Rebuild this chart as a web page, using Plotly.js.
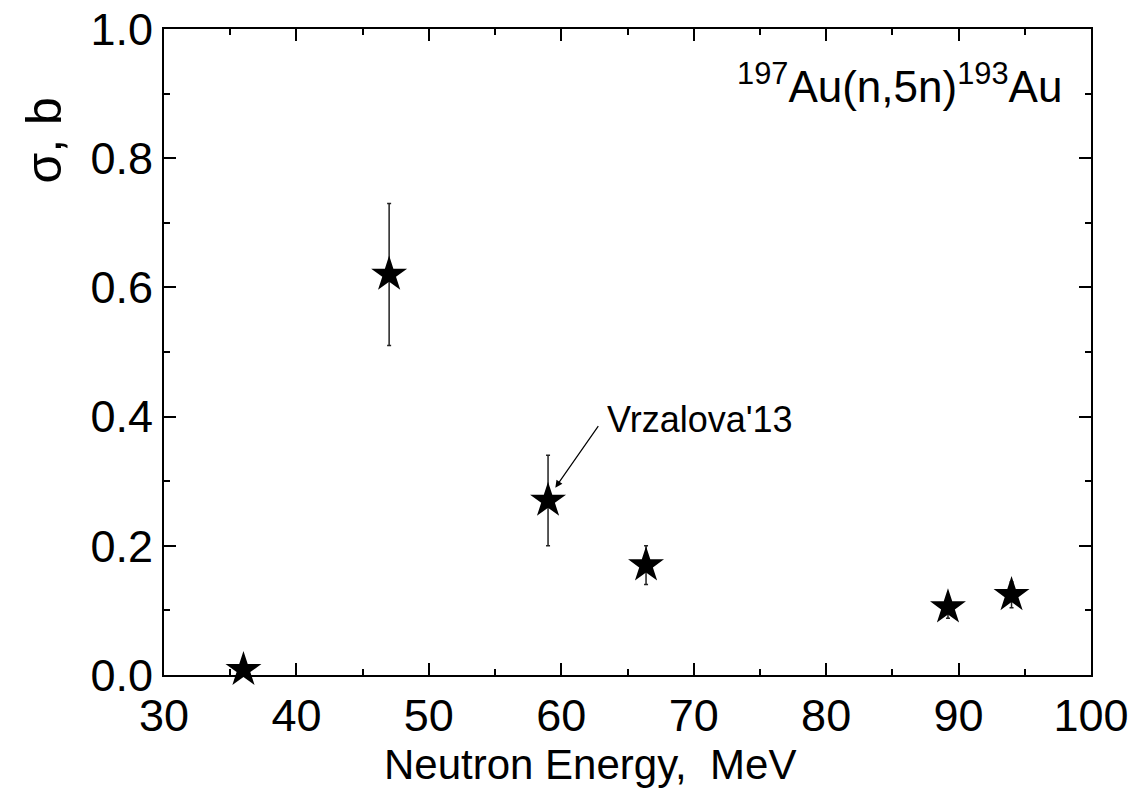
<!DOCTYPE html>
<html>
<head>
<meta charset="utf-8">
<script src="https://cdn.plot.ly/plotly-3.0.1.min.js"></script>
<style>html,body{margin:0;padding:0;background:#fff;}</style>
</head>
<body>
<div id="chart" style="width:1138px;height:796px;"></div>
<script>
const energy = [36, 47, 59, 66.4, 89.2, 94];
const sigma = [0.008, 0.62, 0.27, 0.17, 0.105, 0.124];
const sigmaErr = [0.004, 0.11, 0.07, 0.03, 0.017, 0.02];
const yTickVals = [0, 0.2, 0.4, 0.6, 0.8, 1.0];
const yTickText = ['0.0', '0.2', '0.4', '0.6', '0.8', '1.0'];
const xTickVals = [30, 40, 50, 60, 70, 80, 90, 100];
const xTickText = ['30', '40', '50', '60', '70', '80', '90', '100'];

const FONT = 'Liberation Sans, Arial, sans-serif';

const trace = {
  x: energy, y: sigma, type: 'scatter', mode: 'markers',
  marker: {symbol: 'star', size: 27, color: '#000'},
  error_y: {type: 'data', array: sigmaErr, visible: true, color: '#222', thickness: 1.5, width: 2},
  showlegend: false, cliponaxis: false
};

const axisCommon = {
  showgrid: false, zeroline: false, showline: true, linecolor: '#000', linewidth: 2,
  mirror: 'ticks', ticks: 'inside', ticklen: 12, tickwidth: 2, tickcolor: '#000',
  tickfont: {family: FONT, size: 45, color: '#000'},
  tickmode: 'array'
};

const layout = {
  width: 1138, height: 796,
  margin: {l: 164, r: 47, t: 29, b: 121},
  paper_bgcolor: '#fff', plot_bgcolor: '#fff',
  xaxis: Object.assign({}, axisCommon, {
    range: [30, 100], tickvals: xTickVals, ticktext: xTickText,
    minor: {tickvals: [35, 45, 55, 65, 75, 85, 95], ticks: 'inside', ticklen: 6, tickwidth: 2, tickcolor: '#000'}
  }),
  yaxis: Object.assign({}, axisCommon, {
    range: [0, 1], tickvals: yTickVals, ticktext: yTickText,
    minor: {tickvals: [0.1, 0.3, 0.5, 0.7, 0.9], ticks: 'inside', ticklen: 6, tickwidth: 2, tickcolor: '#000'}
  }),
  annotations: [
    {xref: 'paper', yref: 'paper', x: 0.971, y: 0.915, xanchor: 'right', yanchor: 'middle', showarrow: false,
     text: '<sup>197</sup>Au(n,5n)<sup>193</sup>Au', font: {family: FONT, size: 44, color: '#000'}},
    {x: 59.55, y: 0.29, ax: 44, ay: -63, xref: 'x', yref: 'y', axref: 'pixel', ayref: 'pixel',
     text: '', showarrow: true, arrowhead: 2, arrowsize: 1.2, arrowwidth: 1.2, arrowcolor: '#000'},
    {x: 63.3, y: 0.395, xref: 'x', yref: 'y', xanchor: 'left', yanchor: 'middle', showarrow: false,
     text: "Vrzalova'13", font: {family: FONT, size: 36, color: '#000'}},
    {xref: 'paper', yref: 'paper', x: -0.129, y: 0.828, xanchor: 'center', yanchor: 'middle', showarrow: false,
     textangle: -90, text: 'σ, b', font: {family: FONT, size: 50, color: '#000'}},
    {xref: 'paper', yref: 'paper', x: 0.4595, y: -0.138, xanchor: 'center', yanchor: 'middle', showarrow: false,
     text: 'Neutron Energy,\u00a0 MeV', font: {family: FONT, size: 42, color: '#000'}}
  ]
};

Plotly.newPlot('chart', [trace], layout, {displayModeBar: false, staticPlot: true});
</script>
</body>
</html>
